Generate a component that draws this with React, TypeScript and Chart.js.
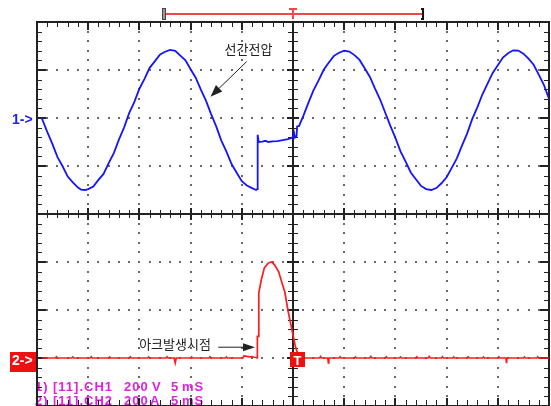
import { useEffect, useRef } from 'react';
import { Chart, registerables } from 'chart.js';

Chart.register(...registerables);

// ---- data (time in ms, CH1 in V, CH2 in A) ----
const ch1Time = [
  0.4, 0.5, 1.0, 1.5, 2.0, 2.5, 3.0, 3.5, 4.0, 4.3, 4.7, 5.0, 5.5, 6.0, 6.5, 7.0, 7.5, 8.0, 8.5, 9.0,
  9.5, 10.0, 10.5, 11.0, 11.5, 12.0, 12.5, 13.0, 13.5, 14.0, 14.5, 15.0, 15.5, 16.0, 16.5, 17.0, 17.5,
  18.0, 18.5, 19.0, 19.5, 20.0, 20.5, 21.0, 21.4, 21.5, 21.55, 21.65, 22.0, 22.3, 22.6, 23.0, 23.5,
  24.0, 24.5, 24.8, 25.0, 25.1, 25.2, 25.35, 25.4, 25.6, 25.8, 26.0, 26.5, 27.0, 27.5, 28.0, 28.5,
  29.0, 29.5, 30.0, 30.5, 31.0, 31.5, 32.0, 32.5, 33.0, 33.5, 34.0, 34.5, 35.0, 35.5, 36.0, 36.5,
  37.0, 37.5, 38.0, 38.5, 39.0, 39.5, 40.0, 40.5, 41.0, 41.5, 42.0, 42.5, 43.0, 43.5, 44.0, 44.5,
  45.0, 45.5, 46.0, 46.5, 47.0, 47.5, 48.0, 48.5, 49.0, 49.5, 50.0,
];
const ch1Volt = [
  0, -4, -58, -108, -163, -201, -244, -268, -290, -298, -300, -296, -286, -258, -233, -188, -146, -90, -40, 20,
  66, 122, 163, 209, 236, 264, 276, 284, 280, 260, 240, 203, 168, 118, 72, 16, -35,
  -94, -140, -192, -228, -263, -281, -292, -300, -296, -70, -100, -98, -95, -100, -97, -96,
  -92, -88, -84, -80, -62, -82, -75, -35, -33, -12, 8, 63, 115, 157, 201, 231,
  259, 272, 281, 277, 262, 242, 207, 172, 123, 78, 23, -32, -83, -139, -182, -227,
  -255, -283, -296, -300, -292, -272, -247, -208, -168, -115, -65, -5, 44, 99, 143, 188,
  220, 252, 270, 282, 281, 268, 247, 222, 181, 138, 80,
];
const ch2Time = [
  0.5, 1.8, 1.9, 2.0, 3.4, 3.5, 3.6, 5.2, 5.3, 5.4, 7.0, 7.1, 7.2, 9.0, 9.1, 9.2, 10.8, 10.9, 11.0,
  12.6, 12.7, 12.8, 13.4, 13.5, 13.6, 15.0, 15.1, 15.2, 16.8, 16.9, 17.0, 18.4, 18.5, 18.6, 20.1, 20.2,
  20.5, 20.8, 21.0, 21.2, 21.45, 21.5, 21.52, 21.62, 21.66, 21.9, 22.2, 22.6, 22.9, 23.2, 23.6, 23.9,
  24.2, 24.5, 24.8, 25.0, 25.2, 25.4, 25.55, 27.6, 27.7, 27.8, 28.4, 28.45, 28.5, 29.5, 29.6, 29.7,
  31.0, 31.1, 31.2, 32.5, 32.6, 32.7, 34.0, 34.1, 34.2, 35.4, 35.5, 35.6, 37.0, 37.1, 37.2, 38.2, 38.3,
  38.4, 39.5, 39.6, 39.7, 40.6, 40.7, 40.8, 42.0, 42.1, 42.2, 43.5, 43.6, 43.7, 45.0, 45.1, 45.2, 45.8,
  45.85, 45.9, 47.5, 47.6, 47.7, 48.8, 48.9, 49.0, 50.0,
];
const ch2Amp = [
  0, 0, 5, 0, 0, 4, 0, 0, 5, 0, 0, 4, 0, 0, 5, 0, 0, 4, 0,
  0, 5, 0, 0, -20, 0, 0, 4, 0, 0, 5, 0, 0, 4, 0, 0, 9,
  7, 5, 6, 3, 2, 0, 90, 90, 270, 325, 375, 396, 400, 388, 359, 317,
  275, 200, 138, 96, 54, 25, 0, 0, 6, 0, 0, -20, 0, 0, 5, 0,
  0, 4, 0, 0, 6, 0, 0, 5, 0, 0, 4, 0, 0, 5, 0, 0, 6,
  0, 0, 5, 0, 0, 4, 0, 0, 5, 0, 0, 4, 0, 0, 5, 0, 0,
  -22, 0, 0, 4, 0, 0, 5, 0, 0,
];

const msPerDiv = 5;
const voltPerDiv = 200;
const ampPerDiv = 200;
const triggerTime = 25;
const memoryWindow = [12.6, 37.6];
const infoCh1 = ['1)', '[11].CH1', '200', 'V', '5', 'mS'];
const infoCh2 = ['2)', '[11].CH2', '200', 'A', '5', 'mS'];
const labelVoltage = '선간전압';
const labelArc = '아크발생시점';

function arrow(ctx: CanvasRenderingContext2D, x1: number, y1: number, x2: number, y2: number, head: number, half: number) {
  const ang = Math.atan2(y2 - y1, x2 - x1);
  const bx = x2 - head * Math.cos(ang);
  const by = y2 - head * Math.sin(ang);
  ctx.beginPath();
  ctx.moveTo(x1, y1);
  ctx.lineTo(bx, by);
  ctx.stroke();
  ctx.beginPath();
  ctx.moveTo(x2, y2);
  ctx.lineTo(bx + half * Math.sin(ang), by - half * Math.cos(ang));
  ctx.lineTo(bx - half * Math.sin(ang), by + half * Math.cos(ang));
  ctx.closePath();
  ctx.fill();
}

const scopePlugin = {
  id: 'scope',
  beforeDatasetsDraw(chart: any) {
    const { ctx, chartArea: a, scales } = chart;
    const X = (t: number) => scales.x.getPixelForValue(t);
    const D = (d: number) => scales.yd.getPixelForValue(d);
    ctx.save();
    // dotted grid
    ctx.fillStyle = '#6a6a6a';
    for (let i = 1; i < 10; i++) {
      if (i === 5) continue;
      const px = Math.round(X(i * msPerDiv));
      for (let m = 1; m < 40; m++) {
        const py = Math.round(D(-4 + m * 0.2));
        ctx.fillRect(px - 1, py - 1, 2, 2);
      }
    }
    for (let j = -3; j <= 3; j++) {
      if (j === 0) continue;
      const py = Math.round(D(j));
      for (let m = 1; m < 50; m++) {
        const px = Math.round(X(m));
        ctx.fillRect(px - 1, py - 1, 2, 2);
      }
    }
    // info text (under the frame)
    ctx.fillStyle = '#e31ee3';
    ctx.font = 'bold 13px "Liberation Sans", Arial, sans-serif';
    (ctx as any).letterSpacing = '1px';
    ctx.textBaseline = 'alphabetic';
    ctx.textAlign = 'left';
    const xs1 = [35, 53, 124, 152, 171, 182];
    const xs2 = [35, 53, 124, 150, 171, 182];
    infoCh1.forEach((s, i) => ctx.fillText(s, xs1[i], 391));
    infoCh2.forEach((s, i) => ctx.fillText(s, xs2[i], 405));
    (ctx as any).letterSpacing = '0px';

    // center axes
    ctx.strokeStyle = '#222';
    ctx.lineWidth = 2;
    const cx = Math.round(X(triggerTime));
    const cy = Math.round(D(0));
    ctx.beginPath();
    ctx.moveTo(cx, a.top); ctx.lineTo(cx, a.bottom);
    ctx.moveTo(a.left, cy); ctx.lineTo(a.right, cy);
    ctx.stroke();
    // frame
    ctx.strokeRect(a.left, a.top, a.right - a.left, a.bottom - a.top);
    // ticks
    const seg = (x1: number, y1: number, x2: number, y2: number, w: number) => {
      ctx.lineWidth = w;
      ctx.beginPath(); ctx.moveTo(x1, y1); ctx.lineTo(x2, y2); ctx.stroke();
    };
    for (let m = 0; m <= 50; m++) {
      const major = m % 5 === 0;
      const px = major ? Math.round(X(m)) : Math.round(X(m)) + 0.5;
      const w = major ? 2 : 1;
      seg(px, a.top, px, a.top + (major ? 8 : 5), w);
      seg(px, a.bottom, px, a.bottom - (major ? 8 : 6), w);
      seg(px, cy - (major ? 6 : 4), px, cy + (major ? 6 : 4), w);
    }
    for (let m = 0; m <= 40; m++) {
      const major = m % 5 === 0;
      const py = major ? Math.round(D(-4 + m * 0.2)) : Math.round(D(-4 + m * 0.2)) + 0.5;
      const w = major ? 2 : 1;
      seg(a.left, py, a.left + (major ? 9 : 5), py, w);
      seg(a.right, py, a.right - (major ? 9 : 5), py, w);
      seg(cx - (major ? 6 : 5), py, cx + (major ? 6 : 5), py, w);
    }
    ctx.restore();
  },
  afterDatasetsDraw(chart: any) {
    const { ctx, chartArea: a, scales } = chart;
    const X = (t: number) => scales.x.getPixelForValue(t);
    const Y1 = (v: number) => scales.y1.getPixelForValue(v);
    const Y2 = (v: number) => scales.y2.getPixelForValue(v);
    ctx.save();
    // top memory marker
    const ym = a.top - 8;
    const xa = X(memoryWindow[0]);
    const xb = X(memoryWindow[1]);
    const xt = X(triggerTime);
    ctx.strokeStyle = '#f04848';
    ctx.lineWidth = 2;
    ctx.beginPath(); ctx.moveTo(xa, ym); ctx.lineTo(xb, ym); ctx.stroke();
    ctx.beginPath(); ctx.moveTo(xt - 4, ym - 5); ctx.lineTo(xt + 4, ym - 5);
    ctx.moveTo(xt, ym - 5); ctx.lineTo(xt, ym + 5); ctx.stroke();
    ctx.fillStyle = '#9a9a9a';
    ctx.fillRect(xa - 3, ym - 5, 3, 11);
    ctx.strokeStyle = '#444'; ctx.lineWidth = 1;
    ctx.strokeRect(xa - 3.5, ym - 5.5, 3, 11);
    ctx.strokeStyle = '#111'; ctx.lineWidth = 2;
    ctx.beginPath(); ctx.moveTo(xb - 1, ym - 5); ctx.lineTo(xb + 1, ym - 5); ctx.lineTo(xb + 1, ym + 5); ctx.lineTo(xb - 1, ym + 5); ctx.stroke();

    // channel 1 marker
    ctx.fillStyle = '#2020f0';
    ctx.font = 'bold 14px "Liberation Sans", Arial, sans-serif';
    ctx.textAlign = 'left';
    ctx.textBaseline = 'alphabetic';
    ctx.fillText('1->', 12, Y1(0) + 6);
    // channel 2 marker
    const y2z = Y2(0);
    ctx.fillStyle = '#f01010';
    ctx.fillRect(10, y2z - 6, 26, 20);
    ctx.fillStyle = '#ffffff';
    ctx.fillText('2->', 12, y2z + 7);
    // trigger box
    ctx.fillStyle = '#f01010';
    ctx.fillRect(xt - 3, y2z - 6, 15, 15);
    ctx.fillStyle = '#ffffff';
    ctx.font = 'bold 13px "Liberation Sans", Arial, sans-serif';
    ctx.textAlign = 'center';
    ctx.fillText('T', xt + 4.5, y2z + 7);

    // annotations
    ctx.fillStyle = '#222';
    ctx.strokeStyle = '#222';
    ctx.lineWidth = 1;
    ctx.font = '13px "Noto Sans CJK KR", sans-serif';
    ctx.textAlign = 'center';
    ctx.textBaseline = 'middle';
    ctx.fillText(labelVoltage, X(20.65), Y1(287));
    arrow(ctx, X(20.48), Y1(235), X(16.94), Y1(89), 12, 4.5);
    ctx.fillText(labelArc, X(13.48), Y2(56));
    arrow(ctx, X(17.7), Y2(45), X(21.29), Y2(45), 12, 4);
    ctx.restore();
  },
};

export default function App() {
  const ref = useRef<HTMLCanvasElement | null>(null);
  useEffect(() => {
    document.body.style.margin = '0';
    const canvas = ref.current;
    if (!canvas) return;
    const chart = new Chart(canvas, {
      type: 'line',
      data: {
        datasets: [
          {
            data: ch1Time.map((t, i) => ({ x: t, y: ch1Volt[i] })),
            xAxisID: 'x',
            yAxisID: 'y1',
            borderColor: '#1414ff',
            borderWidth: 1.8,
            pointRadius: 0,
            tension: 0,
            fill: false,
          },
          {
            data: ch2Time.map((t, i) => ({ x: t, y: ch2Amp[i] })),
            xAxisID: 'x',
            yAxisID: 'y2',
            borderColor: '#ff1c1c',
            borderWidth: 1.7,
            pointRadius: 0,
            tension: 0,
            fill: false,
          },
        ],
      },
      options: {
        responsive: false,
        animation: false,
        devicePixelRatio: 1,
        events: [],
        layout: { padding: { left: 37, top: 22, right: 2, bottom: 0 } },
        plugins: { legend: { display: false }, tooltip: { enabled: false } },
        scales: {
          x: { type: 'linear', min: 0, max: 10 * msPerDiv, display: false },
          y1: { type: 'linear', min: -6 * voltPerDiv, max: 2 * voltPerDiv, display: false },
          y2: { type: 'linear', min: -1 * ampPerDiv, max: 7 * ampPerDiv, display: false },
          yd: { type: 'linear', min: -4, max: 4, display: false },
        },
      },
      plugins: [scopePlugin],
    } as any);
    return () => chart.destroy();
  }, []);
  return (
    <div style={{ position: 'fixed', left: 0, top: 0, width: 551, height: 406, background: '#fff' }}>
      <canvas ref={ref} width={551} height={406} style={{ display: 'block' }} />
    </div>
  );
}
